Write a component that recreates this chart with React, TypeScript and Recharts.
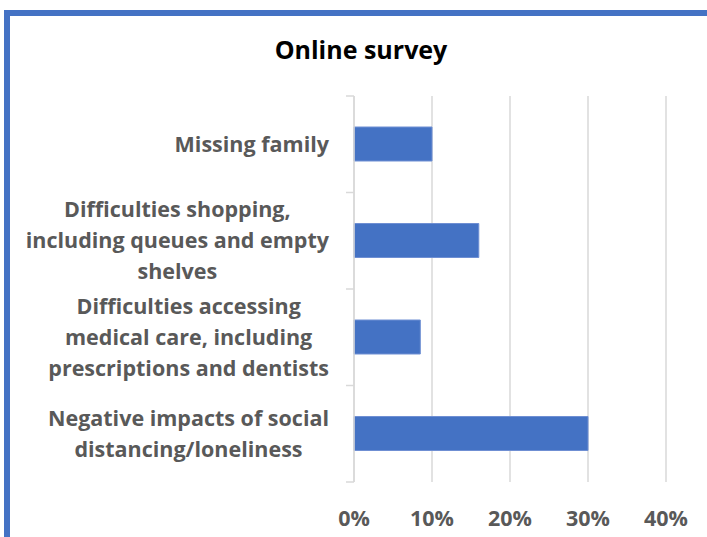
import React from "react";
import { BarChart, Bar, XAxis, YAxis, CartesianGrid } from "recharts";

const categories = [
  "Missing family",
  "Difficulties shopping, including queues and empty shelves",
  "Difficulties accessing medical care, including prescriptions and dentists",
  "Negative impacts of social distancing/loneliness",
];
const categoryLines: string[][] = [
  ["Missing family"],
  ["Difficulties shopping,", "including queues and empty", "shelves"],
  ["Difficulties accessing", "medical care, including", "prescriptions and dentists"],
  ["Negative impacts of social", "distancing/loneliness"],
];
const values = [0.1, 0.16, 0.085, 0.3];
const xTicks = [0, 0.1, 0.2, 0.3, 0.4];
const title = "Online survey";

const data = categories.map((c, i) => ({ name: c, idx: i, value: values[i] }));

const W = 707;
const H = 537;
const TOP = 96;
const BOTTOM = 55;
const YAXIS_W = 354;
const FONT = "'Open Sans', Lato, sans-serif";
const LABEL_SIZE = 21.5;
const GRAY = "#595959";
const BLUE = "#4472C4";
const BAND = (H - TOP - BOTTOM) / categories.length;

let ctx: CanvasRenderingContext2D | null = null;
function measure(t: string): number {
  if (!ctx) {
    const c = document.createElement("canvas");
    ctx = c.getContext("2d");
  }
  if (!ctx) return t.length * 10;
  ctx.font = `bold ${LABEL_SIZE}px 'Open Sans'`;
  return ctx.measureText(t).width;
}

const YTick = (props: any) => {
  const { y, payload, index } = props;
  const lines = categoryLines[payload.value] || [String(payload.value)];
  const right = 329;
  const maxW = Math.max(...lines.map(measure));
  const cx = right - maxW / 2;
  const lh = 31;
  const n = lines.length;
  const axisX = YAXIS_W;
  return (
    <g>
      <line x1={axisX - 8} x2={axisX} y1={y - BAND / 2} y2={y - BAND / 2} stroke="#d9d9d9" strokeWidth={1.5} />
      {index === categories.length - 1 && (
        <line x1={axisX - 8} x2={axisX} y1={y + BAND / 2} y2={y + BAND / 2} stroke="#d9d9d9" strokeWidth={1.5} />
      )}
      {lines.map((l, i) => (
        <text
          key={i}
          x={cx}
          y={y + (i - (n - 1) / 2) * lh + 7.5}
          textAnchor="middle"
          fill={GRAY}
          fontFamily={FONT}
          fontWeight="bold"
          fontSize={LABEL_SIZE}
        >
          {l}
        </text>
      ))}
    </g>
  );
};

export default function App() {
  return (
    <div style={{ position: "absolute", left: 0, top: 0, width: W, height: H, background: "#fff", overflow: "hidden" }}>
      <div
        style={{
          position: "absolute",
          left: 4,
          top: 10,
          right: 0,
          bottom: 0,
          borderTop: `6px solid ${BLUE}`,
          borderLeft: `6px solid ${BLUE}`,
        }}
      />
      <div
        style={{
          position: "absolute",
          left: 0,
          width: 722,
          top: 32,
          lineHeight: "34px",
          textAlign: "center",
          fontFamily: FONT,
          fontWeight: "bold",
          fontSize: 25,
          color: "#000",
        }}
      >
        {title}
      </div>
      <div style={{ position: "absolute", left: 0, top: 0 }}>
        <BarChart
          width={W}
          height={H}
          data={data}
          layout="vertical"
          margin={{ top: TOP, right: 41, bottom: 0, left: 0 }}
        >
          <CartesianGrid horizontal={false} stroke="#d9d9d9" strokeWidth={1.5} />
          <XAxis
            type="number"
            domain={[0, 0.4]}
            ticks={xTicks}
            tickFormatter={(v: number) => `${Math.round(v * 100)}%`}
            axisLine={false}
            tickLine={false}
            tickSize={0}
            tickMargin={29}
            height={BOTTOM}
            tick={{ fill: GRAY, fontFamily: FONT, fontWeight: "bold", fontSize: LABEL_SIZE }}
          />
          <YAxis
            type="category"
            dataKey="idx"
            width={YAXIS_W}
            axisLine={{ stroke: "#d9d9d9", strokeWidth: 1.5 }}
            tickLine={false}
            tick={<YTick />}
            interval={0}
          />
          <Bar dataKey="value" fill={BLUE} stroke="#6f8fd3" strokeWidth={1} barSize={34} isAnimationActive={false} />
        </BarChart>
      </div>
    </div>
  );
}
